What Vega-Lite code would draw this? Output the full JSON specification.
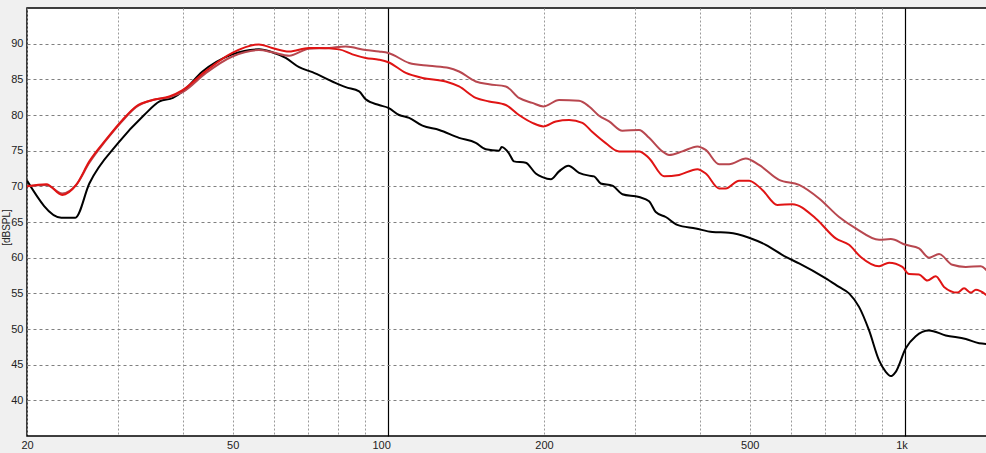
{
  "$schema": "https://vega.github.io/schema/vega-lite/v6.json",
  "width": 961,
  "height": 428,
  "autosize": "none",
  "padding": {"left": 27, "top": 8, "right": 0, "bottom": 17},
  "background": "#f0f0f0",
  "config": {
    "view": {"fill": "white", "stroke": "#000000", "strokeWidth": 1.5},
    "axis": {"labelFont": "Liberation Sans", "labelFontSize": 11, "labelColor": "#222222", "titleFont": "Liberation Sans", "titleFontSize": 10, "titleFontWeight": "normal", "titleColor": "#222222"}
  },
  "datasets": {
    "curves": [
      {"s": "a", "f": 20, "db": 70.8}, {"s": "a", "f": 23.3, "db": 65.6}, {"s": "a", "f": 24.8, "db": 65.6}, {"s": "a", "f": 26.4, "db": 70.4},
      {"s": "a", "f": 30.0, "db": 76.05}, {"s": "a", "f": 33.7, "db": 80.0}, {"s": "a", "f": 36.1, "db": 81.9}, {"s": "a", "f": 38.3, "db": 82.4},
      {"s": "a", "f": 40.0, "db": 83.3}, {"s": "a", "f": 43.7, "db": 86.1}, {"s": "a", "f": 49.9, "db": 88.5}, {"s": "a", "f": 56.2, "db": 89.2},
      {"s": "a", "f": 59.6, "db": 88.8}, {"s": "a", "f": 63.3, "db": 88.0}, {"s": "a", "f": 67.2, "db": 86.7}, {"s": "a", "f": 71.3, "db": 86.0},
      {"s": "a", "f": 77.9, "db": 84.7}, {"s": "a", "f": 82.7, "db": 83.9}, {"s": "a", "f": 87.8, "db": 83.3}, {"s": "a", "f": 90.4, "db": 82.2},
      {"s": "a", "f": 95.9, "db": 81.4}, {"s": "a", "f": 100, "db": 81.0}, {"s": "a", "f": 104.9, "db": 80.0}, {"s": "a", "f": 109.7, "db": 79.6},
      {"s": "a", "f": 116.4, "db": 78.5}, {"s": "a", "f": 125.4, "db": 77.9}, {"s": "a", "f": 137.0, "db": 76.8}, {"s": "a", "f": 147.6, "db": 76.1},
      {"s": "a", "f": 154.3, "db": 75.2}, {"s": "a", "f": 163.7, "db": 75.0}, {"s": "a", "f": 165.7, "db": 75.5}, {"s": "a", "f": 171.2, "db": 74.6},
      {"s": "a", "f": 175.0, "db": 73.5}, {"s": "a", "f": 184.4, "db": 73.3}, {"s": "a", "f": 192.8, "db": 71.8}, {"s": "a", "f": 198.6, "db": 71.3},
      {"s": "a", "f": 206.2, "db": 71.0}, {"s": "a", "f": 213.9, "db": 72.1}, {"s": "a", "f": 223.0, "db": 72.9}, {"s": "a", "f": 233.8, "db": 71.9},
      {"s": "a", "f": 244.5, "db": 71.5}, {"s": "a", "f": 250.0, "db": 71.4}, {"s": "a", "f": 257.5, "db": 70.4}, {"s": "a", "f": 271.2, "db": 70.1},
      {"s": "a", "f": 283.6, "db": 68.9}, {"s": "a", "f": 305.4, "db": 68.5}, {"s": "a", "f": 319.4, "db": 67.9}, {"s": "a", "f": 329.0, "db": 66.4},
      {"s": "a", "f": 344.0, "db": 65.7}, {"s": "a", "f": 362.2, "db": 64.6}, {"s": "a", "f": 393.2, "db": 64.1}, {"s": "a", "f": 423.4, "db": 63.6},
      {"s": "a", "f": 456.1, "db": 63.5}, {"s": "a", "f": 498.6, "db": 62.8}, {"s": "a", "f": 537.0, "db": 61.8}, {"s": "a", "f": 587.1, "db": 60.1},
      {"s": "a", "f": 622.9, "db": 59.2}, {"s": "a", "f": 701.5, "db": 57.1}, {"s": "a", "f": 744.4, "db": 55.9}, {"s": "a", "f": 778.2, "db": 55.0},
      {"s": "a", "f": 813.6, "db": 53.1}, {"s": "a", "f": 850.8, "db": 49.8}, {"s": "a", "f": 889.5, "db": 45.6}, {"s": "a", "f": 916.5, "db": 44.0},
      {"s": "a", "f": 937.1, "db": 43.4}, {"s": "a", "f": 958.1, "db": 44.0}, {"s": "a", "f": 1001.8, "db": 47.3}, {"s": "a", "f": 1047.3, "db": 49.0},
      {"s": "a", "f": 1111, "db": 49.8}, {"s": "a", "f": 1197, "db": 49.1}, {"s": "a", "f": 1309, "db": 48.6}, {"s": "a", "f": 1389, "db": 48.0},
      {"s": "a", "f": 1445, "db": 47.9},

      {"s": "b", "f": 20, "db": 70.0}, {"s": "b", "f": 21.8, "db": 70.2}, {"s": "b", "f": 23.4, "db": 69.0}, {"s": "b", "f": 24.9, "db": 70.2},
      {"s": "b", "f": 26.4, "db": 73.3}, {"s": "b", "f": 28.4, "db": 76.4}, {"s": "b", "f": 30.6, "db": 79.2}, {"s": "b", "f": 32.5, "db": 81.1},
      {"s": "b", "f": 35.0, "db": 82.1}, {"s": "b", "f": 37.7, "db": 82.5}, {"s": "b", "f": 40.0, "db": 83.2}, {"s": "b", "f": 44.4, "db": 85.9},
      {"s": "b", "f": 49.9, "db": 88.2}, {"s": "b", "f": 56.2, "db": 89.1}, {"s": "b", "f": 59.6, "db": 88.8}, {"s": "b", "f": 64.3, "db": 88.3},
      {"s": "b", "f": 70.2, "db": 89.3}, {"s": "b", "f": 76.8, "db": 89.4}, {"s": "b", "f": 82.7, "db": 89.6}, {"s": "b", "f": 90.4, "db": 89.1},
      {"s": "b", "f": 95.9, "db": 88.9}, {"s": "b", "f": 100, "db": 88.7}, {"s": "b", "f": 109.7, "db": 87.3}, {"s": "b", "f": 119.9, "db": 86.9},
      {"s": "b", "f": 131.0, "db": 86.6}, {"s": "b", "f": 137.0, "db": 86.1}, {"s": "b", "f": 147.6, "db": 84.7}, {"s": "b", "f": 156.6, "db": 84.3},
      {"s": "b", "f": 168.7, "db": 84.0}, {"s": "b", "f": 178.9, "db": 82.4}, {"s": "b", "f": 189.9, "db": 81.7}, {"s": "b", "f": 199.5, "db": 81.2},
      {"s": "b", "f": 213.9, "db": 82.1}, {"s": "b", "f": 233.8, "db": 82.0}, {"s": "b", "f": 244.5, "db": 81.2}, {"s": "b", "f": 255.6, "db": 79.9},
      {"s": "b", "f": 267.3, "db": 79.1}, {"s": "b", "f": 283.6, "db": 77.8}, {"s": "b", "f": 305.4, "db": 77.9}, {"s": "b", "f": 319.4, "db": 76.8},
      {"s": "b", "f": 338.8, "db": 74.9}, {"s": "b", "f": 349.1, "db": 74.4}, {"s": "b", "f": 370.4, "db": 74.9}, {"s": "b", "f": 396.0, "db": 75.6},
      {"s": "b", "f": 411.1, "db": 75.1}, {"s": "b", "f": 436.2, "db": 73.1}, {"s": "b", "f": 456.1, "db": 73.1}, {"s": "b", "f": 491.3, "db": 73.9},
      {"s": "b", "f": 521.2, "db": 73.0}, {"s": "b", "f": 569.8, "db": 70.9}, {"s": "b", "f": 622.9, "db": 70.2}, {"s": "b", "f": 681.0, "db": 68.3},
      {"s": "b", "f": 744.4, "db": 65.7}, {"s": "b", "f": 801.9, "db": 64.1}, {"s": "b", "f": 889.5, "db": 62.5}, {"s": "b", "f": 937.1, "db": 62.6},
      {"s": "b", "f": 1001.8, "db": 61.8}, {"s": "b", "f": 1062.8, "db": 61.3}, {"s": "b", "f": 1111, "db": 60.0}, {"s": "b", "f": 1162, "db": 60.5},
      {"s": "b", "f": 1233, "db": 59.0}, {"s": "b", "f": 1309, "db": 58.7}, {"s": "b", "f": 1399, "db": 58.8}, {"s": "b", "f": 1445, "db": 58.0},

      {"s": "c", "f": 20, "db": 70.0}, {"s": "c", "f": 21.8, "db": 70.3}, {"s": "c", "f": 23.4, "db": 68.8}, {"s": "c", "f": 24.9, "db": 70.2},
      {"s": "c", "f": 26.4, "db": 73.5}, {"s": "c", "f": 28.4, "db": 76.5}, {"s": "c", "f": 30.6, "db": 79.3}, {"s": "c", "f": 32.5, "db": 81.2},
      {"s": "c", "f": 35.0, "db": 82.1}, {"s": "c", "f": 37.7, "db": 82.6}, {"s": "c", "f": 40.0, "db": 83.5}, {"s": "c", "f": 44.4, "db": 86.2},
      {"s": "c", "f": 49.9, "db": 88.7}, {"s": "c", "f": 56.2, "db": 89.9}, {"s": "c", "f": 59.6, "db": 89.4}, {"s": "c", "f": 64.3, "db": 88.9},
      {"s": "c", "f": 70.2, "db": 89.4}, {"s": "c", "f": 73.4, "db": 89.4}, {"s": "c", "f": 80.3, "db": 89.2}, {"s": "c", "f": 85.2, "db": 88.5},
      {"s": "c", "f": 90.4, "db": 88.0}, {"s": "c", "f": 95.9, "db": 87.75}, {"s": "c", "f": 100, "db": 87.4}, {"s": "c", "f": 108.1, "db": 85.9},
      {"s": "c", "f": 116.4, "db": 85.2}, {"s": "c", "f": 129.1, "db": 84.7}, {"s": "c", "f": 137.0, "db": 84.0}, {"s": "c", "f": 147.6, "db": 82.4},
      {"s": "c", "f": 156.6, "db": 81.9}, {"s": "c", "f": 168.7, "db": 81.4}, {"s": "c", "f": 178.9, "db": 80.0}, {"s": "c", "f": 189.9, "db": 78.9},
      {"s": "c", "f": 199.5, "db": 78.4}, {"s": "c", "f": 210.8, "db": 79.1}, {"s": "c", "f": 223.7, "db": 79.3}, {"s": "c", "f": 237.3, "db": 78.9},
      {"s": "c", "f": 248.1, "db": 77.6}, {"s": "c", "f": 263.3, "db": 76.05}, {"s": "c", "f": 279.4, "db": 74.9}, {"s": "c", "f": 305.4, "db": 74.9},
      {"s": "c", "f": 319.4, "db": 73.95}, {"s": "c", "f": 341.4, "db": 71.4}, {"s": "c", "f": 365.0, "db": 71.6}, {"s": "c", "f": 396.0, "db": 72.4},
      {"s": "c", "f": 411.1, "db": 71.8}, {"s": "c", "f": 436.2, "db": 69.7}, {"s": "c", "f": 449.4, "db": 69.7}, {"s": "c", "f": 476.9, "db": 70.8},
      {"s": "c", "f": 498.6, "db": 70.8}, {"s": "c", "f": 528.9, "db": 69.5}, {"s": "c", "f": 565.5, "db": 67.4}, {"s": "c", "f": 604.6, "db": 67.5},
      {"s": "c", "f": 671.0, "db": 65.5}, {"s": "c", "f": 733.5, "db": 62.7}, {"s": "c", "f": 778.2, "db": 61.8}, {"s": "c", "f": 819.8, "db": 60.1},
      {"s": "c", "f": 889.5, "db": 58.8}, {"s": "c", "f": 930.0, "db": 59.3}, {"s": "c", "f": 986.7, "db": 58.7}, {"s": "c", "f": 1016.5, "db": 57.7},
      {"s": "c", "f": 1062.8, "db": 57.65}, {"s": "c", "f": 1103, "db": 56.8}, {"s": "c", "f": 1145, "db": 57.4}, {"s": "c", "f": 1188, "db": 55.9},
      {"s": "c", "f": 1261, "db": 55.1}, {"s": "c", "f": 1299, "db": 55.7}, {"s": "c", "f": 1338, "db": 55.1}, {"s": "c", "f": 1369, "db": 55.5},
      {"s": "c", "f": 1445, "db": 54.6}
    ]
  },
  "data": {"name": "curves"},
  "mark": {"type": "line", "strokeWidth": 2, "interpolate": "monotone", "clip": true},
  "encoding": {
    "x": {
      "field": "f", "type": "quantitative",
      "scale": {"type": "log", "domain": [20, 1445], "nice": false, "zero": false},
      "axis": {
        "title": null,
        "values": [20, 30, 40, 50, 60, 70, 80, 90, 100, 200, 300, 400, 500, 600, 700, 800, 900, 1000],
        "labelExpr": "indexof([20, 50, 100, 200, 500], datum.value) >= 0 ? datum.label : (datum.value == 1000 ? '1k' : '')",
        "ticks": false,
        "domain": false,
        "labelPadding": 3,
        "labelFlush": false,
        "labelOverlap": false,
        "labelAlign": {"condition": {"test": "datum.value == 100 || datum.value == 1000", "value": "right"}, "value": "center"},
        "labelOffset": {"condition": {"test": "datum.value == 100 || datum.value == 1000", "value": 2}, "value": 0},
        "grid": true,
        "gridColor": {"condition": {"test": "datum.value == 100 || datum.value == 1000", "value": "#000000"}, "value": "#9a9a9a"},
        "gridDash": {"condition": {"test": "datum.value == 100 || datum.value == 1000", "value": []}, "value": [2, 2]},
        "gridWidth": {"condition": {"test": "datum.value == 100 || datum.value == 1000", "value": 1.2}, "value": 1}
      }
    },
    "y": {
      "field": "db", "type": "quantitative",
      "scale": {"domain": [35, 95], "nice": false, "zero": false},
      "axis": {
        "title": "[dBSPL]",
        "titleAngle": -90,
        "titleX": -21,
        "titleY": 219,
        "titleAlign": "center",
        "titleBaseline": "middle",
        "values": [40, 45, 50, 55, 60, 65, 70, 75, 80, 85, 90],
        "ticks": false,
        "domain": false,
        "labelPadding": 4,
        "grid": true,
        "gridColor": "#808080",
        "gridDash": [3, 3],
        "gridWidth": 1
      }
    },
    "color": {
      "field": "s", "type": "nominal",
      "scale": {"domain": ["a", "b", "c"], "range": ["#000000", "#b8474f", "#e01414"]},
      "legend": null
    }
  }
}
